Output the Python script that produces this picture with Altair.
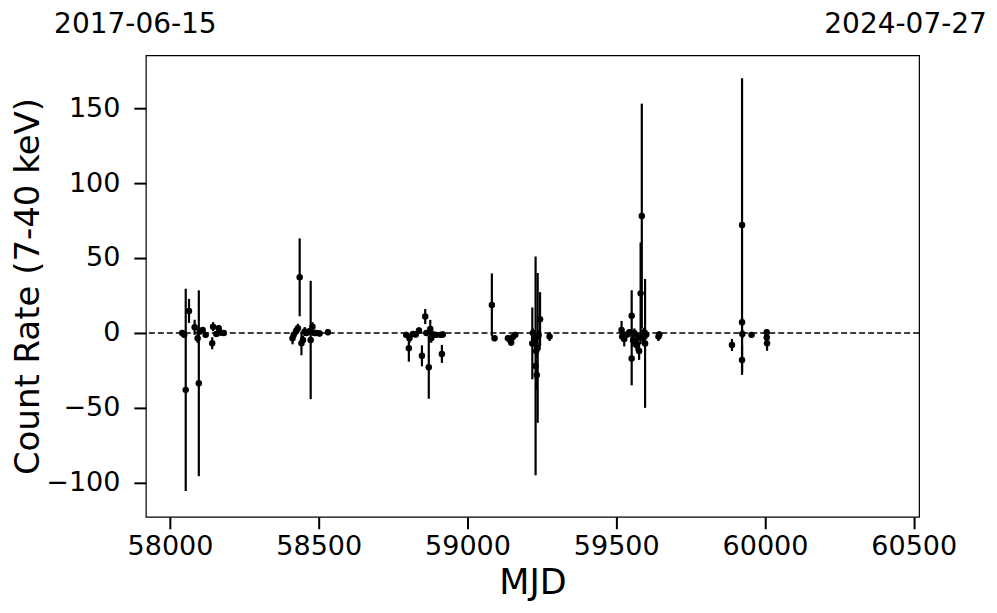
import altair as alt
import pandas as pd

mjd = [
    58041, 58048, 58053, 58064, 58083, 58093, 58097, 58100, 58110, 58120, 58142, 58145, 58156, 58164, 58171, 58181,
    58412, 58416, 58425, 58430, 58436, 58442, 58447, 58453, 58459, 58467, 58473, 58479, 58485, 58492, 58503, 58531,
    58794, 58803, 58805, 58817, 58826, 58837, 58847, 58858, 58862, 58870, 58875, 58878, 58886, 58895, 58909, 58914, 58917,
    59082, 59091, 59136, 59144, 59147, 59152, 59161, 59218, 59220, 59224, 59227, 59229, 59231, 59233, 59236, 59239, 59244, 59276,
    59518, 59520, 59527, 59537, 59544, 59552, 59552, 59557, 59561, 59568, 59574, 59577, 59582, 59586, 59590, 59593, 59597, 59601, 59642, 59645,
    59889, 59923, 59923, 59924, 59923, 59955, 60006, 60006, 60007,
]
rate = [
    0.0, -1.3, -38.0, 14.7, 3.8, -3.6, -33.6, 1.0, 2.0, -1.3, -6.9, 4.2, -0.7, 3.1, 0.2, 0.0,
    -3.6, -1.3, 1.6, 3.1, 37.1, -6.9, -4.7, 0.9, 0.0, 1.0, -4.7, 4.2, 0.0, 0.0, -0.4, 0.5,
    -1.3, -10.2, -3.6, -0.7, -1.0, 1.6, -15.3, 10.9, 0.0, -22.9, 2.7, -3.6, -1.0, -1.3, -1.3, -14.0, -1.0,
    18.7, -3.6, -3.6, -5.1, -6.4, -2.9, -1.3, -7.0, 0.0, -3.6, -6.7, -22.0, -12.0, -28.0, -10.0, -1.5, 9.2, -2.4,
    2.0, -2.4, -4.0, -1.0, 0.5, 11.5, -17.0, -5.0, 0.0, -8.0, -3.0, -12.0, 26.4, 78.0, -3.0, 0.5, -7.0, -1.0, -2.4, -1.0,
    -8.0, 72.0, 7.1, -0.7, -18.0, -1.3, 0.5, -3.1, -6.9,
]
err = [
    2, 2, 67.5, 8, 5, 3, 62, 2, 2, 2, 4, 3, 2, 2, 2, 1.5,
    4, 3, 3, 3, 26, 8, 3, 3, 2, 2, 39.5, 3, 2, 2, 2, 2,
    2, 9, 3, 2, 2, 2, 7, 5, 2, 21, 6, 3, 2, 2, 2, 6, 2,
    21, 2, 2, 2, 2, 2, 2, 24, 3, 3, 4, 73, 5, 10, 50, 3, 18, 3,
    6, 3, 5, 2, 2, 17, 18, 4, 3, 4, 3, 6, 34, 75, 3, 3, 43, 3, 3, 2,
    4, 98, 3, 3, 10, 2, 2, 3, 5,
]

x_ticks = [58000, 58500, 59000, 59500, 60000, 60500]
y_ticks = [-100, -50, 0, 50, 100, 150]
x_range = [57919, 60518]
y_range = [-122.7, 185.3]
date_labels = ["2017-06-15", "2024-07-27"]

df = pd.DataFrame({"mjd": mjd, "rate": rate, "err": err})
df["lo"] = df["rate"] - df["err"]
df["hi"] = df["rate"] + df["err"]

FONT = "DejaVu Sans"

xscale = alt.Scale(domain=x_range, nice=False, zero=False)
yscale = alt.Scale(domain=y_range, nice=False, zero=False)

xaxis = alt.Axis(values=x_ticks, format="d", title="MJD", grid=False, domain=False,
                 tickSize=12, tickWidth=2, tickColor="black",
                 labelFontSize=27, labelFont=FONT, labelColor="black", labelPadding=5,
                 titleFontSize=35, titleFont=FONT, titleFontWeight="normal", titleColor="black",
                 titlePadding=6)
yaxis = alt.Axis(values=y_ticks, format="d", title="Count Rate (7-40 keV)", grid=False, domain=False,
                 tickSize=12, tickWidth=2, tickColor="black",
                 labelFontSize=27, labelFont=FONT, labelColor="black", labelPadding=14,
                 titleFontSize=34, titleFont=FONT, titleFontWeight="normal", titleColor="black",
                 titlePadding=0)

base = alt.Chart(df)

zero = alt.Chart(pd.DataFrame({"y": [0]})).mark_rule(
    color="black", strokeDash=[6, 3], strokeWidth=1.5
).encode(y=alt.Y("y:Q", scale=yscale, axis=yaxis))

bars = base.mark_rule(color="black", strokeWidth=2.2).encode(
    x=alt.X("mjd:Q", scale=xscale, axis=xaxis),
    y=alt.Y("lo:Q", scale=yscale, axis=yaxis),
    y2="hi:Q",
)

pts = base.mark_circle(color="black", size=42, opacity=1).encode(
    x=alt.X("mjd:Q", scale=xscale, axis=xaxis),
    y=alt.Y("rate:Q", scale=yscale, axis=yaxis),
)

dates = alt.Chart(pd.DataFrame({"label": date_labels, "px": [-10.5, 760.5]})).mark_text(
    font=FONT, fontSize=28, color="black", baseline="alphabetic", align="center"
).encode(
    text="label:N",
    x=alt.X("px:Q", scale=None),
    y=alt.value(-22),
)

chart = alt.layer(zero, bars, pts, dates).properties(
    width=774, height=462,
    background="white",
    autosize=alt.AutoSizeParams(type="none"),
    padding={"left": 138, "top": 47, "right": 70, "bottom": 90},
).configure_view(stroke="black", strokeWidth=1.2, fill="white")

chart.save("out.html", embed_options={"renderer": "svg", "actions": False})
